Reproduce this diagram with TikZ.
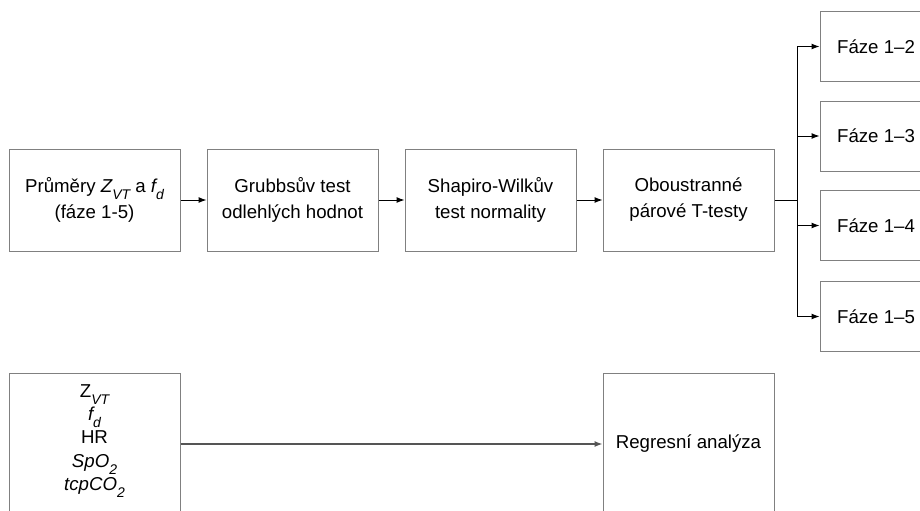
\documentclass[tikz,border=0pt]{standalone}
\usepackage{fontspec}
\setmainfont{Liberation Sans}
\usetikzlibrary{arrows.meta}
\definecolor{boxgray}{RGB}{128,128,128}
\definecolor{linegray}{RGB}{85,85,85}
\newcommand{\lowsub}[1]{\raisebox{-0.75ex}{\fontsize{10.5}{10.5}\selectfont\itshape #1}}
\begin{document}
\begin{tikzpicture}[x=0.75pt,y=-0.75pt,
  box/.style={draw=boxgray, line width=0.75pt, minimum width=128.25pt, minimum height=76.5pt,
    inner sep=0pt, align=center, font=\fontsize{14}{19.5}\selectfont},
  phase/.style={box, minimum width=84pt, minimum height=52.5pt},
  txt/.style={align=center, inner sep=0pt, font=\fontsize{14}{17.5}\selectfont},
  arr/.style={draw=black, line width=0.75pt, -{Latex[length=6pt,width=4.5pt]}},
  plain/.style={draw=black, line width=0.75pt}]
\clip (0,0) rectangle (920,510);
\fill[white] (0,0) rectangle (920,510);

% main row
\node[box] (mean) at (94.5,200) {Průměry {\itshape Z}\lowsub{VT} a {\itshape f}\lowsub{d}\\(fáze 1-5)};
\node[box] (grubbs) at (292.5,200) {Grubbsův test\\odlehlých hodnot};
\node[box] (shapiro) at (490.5,200) {Shapiro-Wilkův\\test normality};
\node[box] (ttest) at (688.5,200) {Oboustranné\\párové T-testy};

\draw[arr] (mean) -- (grubbs);
\draw[arr] (grubbs) -- (shapiro);
\draw[arr] (shapiro) -- (ttest);

% phases
\node[phase] (f12) at (876,46.5) {Fáze 1–2};
\node[phase] (f13) at (876,136) {Fáze 1–3};
\node[phase] (f14) at (876,225.5) {Fáze 1–4};
\node[phase] (f15) at (876,316.5) {Fáze 1–5};

\coordinate (split) at (797,200);
\draw[plain] (ttest.east) -- (split);
\draw[arr] (split) |- (f12.west);
\draw[arr] (split) |- (f13.west);
\draw[arr] (split) |- (f14.west);
\draw[arr] (split) |- (f15.west);

% bottom row
\node[box, minimum height=106.5pt] (vars) at (94.5,444) {};
\node[txt] (varstxt) at (94.5,441) {Z\lowsub{VT}\\{\itshape f}\lowsub{d}\\HR\\{\itshape SpO}\lowsub{2}\\{\itshape tcpCO}\lowsub{2}};
\node[box, minimum height=106.5pt] (reg) at (688.5,444) {Regresní analýza};
\draw[draw=linegray, line width=1pt, -{Latex[length=6pt,width=4.5pt]}] (vars.east) -- (reg.west);
\end{tikzpicture}
\end{document}
